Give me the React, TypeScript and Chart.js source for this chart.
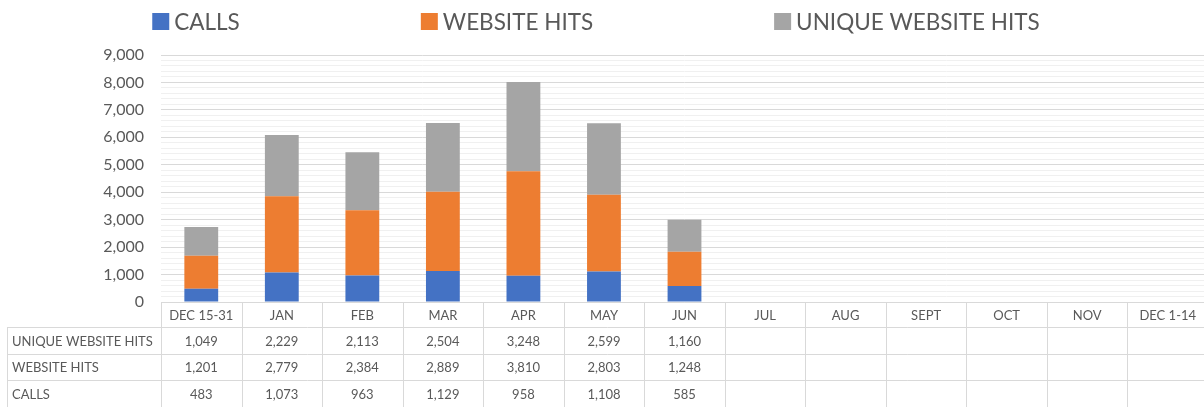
import React, { useEffect, useRef } from 'react';
import { Chart, registerables } from 'chart.js';

Chart.register(...registerables);

const categories = ['DEC 15-31', 'JAN', 'FEB', 'MAR', 'APR', 'MAY', 'JUN', 'JUL', 'AUG', 'SEPT', 'OCT', 'NOV', 'DEC 1-14'];
const calls: (number | null)[] = [483, 1073, 963, 1129, 958, 1108, 585, null, null, null, null, null, null];
const websiteHits: (number | null)[] = [1201, 2779, 2384, 2889, 3810, 2803, 1248, null, null, null, null, null, null];
const uniqueWebsiteHits: (number | null)[] = [1049, 2229, 2113, 2504, 3248, 2599, 1160, null, null, null, null, null, null];
const seriesNames = ['CALLS', 'WEBSITE HITS', 'UNIQUE WEBSITE HITS'];
const seriesColors = ['#4472C4', '#ED7D31', '#A5A5A5'];
const yMax = 9000;
const yMajorStep = 1000;
const yMinorStep = 200;

const FONT = 'Lato, "Open Sans", sans-serif';
const TEXT = '#595959';
const LINE = '#d9d9d9';

const fmt = (v: number) => v.toLocaleString('en-US');

const legendPlugin = {
  id: 'customLegend',
  afterDraw(chart: any) {
    const ctx = chart.ctx;
    ctx.save();
    ctx.font = `22.5px ${FONT}`;
    ctx.textBaseline = 'middle';
    ctx.textAlign = 'left';
    const box = 17;
    const gapBoxText = 5;
    const gapItems = 181;
    const items = chart.data.datasets.map((d: any) => ({
      label: d.label,
      color: d.backgroundColor,
      w: box + gapBoxText + ctx.measureText(d.label).width,
    }));
    const total = items.reduce((s: number, it: any) => s + it.w, 0) + gapItems * (items.length - 1);
    let x = 596 - total / 2;
    const cy = 21.5;
    items.forEach((it: any) => {
      ctx.fillStyle = it.color;
      ctx.fillRect(x, cy - box / 2, box, box);
      ctx.fillStyle = TEXT;
      ctx.fillText(it.label, x + box + gapBoxText, cy + 1);
      x += it.w + gapItems;
    });
    ctx.restore();
  },
};

const tablePlugin = {
  id: 'dataTable',
  afterDraw(chart: any) {
    const ctx = chart.ctx;
    const area = chart.chartArea;
    const xs = chart.scales.x;
    const n = chart.data.labels.length;
    const left = area.left;
    const right = area.right;
    const colW = (right - left) / n;
    const top = area.bottom;
    const headerH = 25;
    const rowH = 26.7;
    const tableLeft = 7.5;
    const bottom = chart.height;
    const rows = [...chart.data.datasets].reverse();

    ctx.save();
    ctx.strokeStyle = LINE;
    ctx.lineWidth = 1;
    ctx.beginPath();
    ctx.moveTo(left, Math.round(top) + 0.5);
    ctx.lineTo(right, Math.round(top) + 0.5);
    for (let r = 0; r < rows.length; r++) {
      const y = Math.round(top + headerH + r * rowH) + 0.5;
      ctx.moveTo(tableLeft, y);
      ctx.lineTo(right, y);
    }
    ctx.moveTo(tableLeft, Math.round(top + headerH));
    ctx.lineTo(tableLeft, bottom);
    for (let k = 0; k <= n; k++) {
      const x = Math.round(left + k * colW) + 0.5;
      ctx.moveTo(x, Math.round(top));
      ctx.lineTo(x, bottom);
    }
    ctx.stroke();

    ctx.fillStyle = TEXT;
    ctx.textBaseline = 'middle';
    ctx.font = `13px ${FONT}`;
    ctx.textAlign = 'center';
    chart.data.labels.forEach((lab: string, i: number) => {
      ctx.fillText(lab, xs.getPixelForValue(i), top + headerH / 2 + 1);
    });
    rows.forEach((ds: any, r: number) => {
      const cy = top + headerH + r * rowH + rowH / 2 + 1;
      ctx.textAlign = 'left';
      ctx.fillText(ds.label, 12, cy);
      ctx.textAlign = 'center';
      ds.data.forEach((v: number | null, i: number) => {
        if (v == null) return;
        ctx.fillText(fmt(v), xs.getPixelForValue(i), cy);
      });
    });
    ctx.restore();
  },
};

export default function App() {
  const ref = useRef<HTMLCanvasElement | null>(null);
  useEffect(() => {
    if (!ref.current) return;
    const series = [calls, websiteHits, uniqueWebsiteHits];
    const chart = new Chart(ref.current, {
      type: 'bar',
      data: {
        labels: categories,
        datasets: series.map((data, i) => ({
          label: seriesNames[i],
          data,
          backgroundColor: seriesColors[i],
          borderWidth: 0,
          barPercentage: 0.42,
          categoryPercentage: 1,
        })),
      },
      options: {
        animation: false,
        responsive: false,
        devicePixelRatio: 1,
        layout: { padding: { top: 55, bottom: 105, left: 0, right: 2 } },
        plugins: { legend: { display: false }, tooltip: { enabled: false } },
        scales: {
          x: { stacked: true, display: false },
          y: {
            stacked: true,
            min: 0,
            max: yMax,
            border: { display: false },
            grid: {
              drawTicks: false,
              color: (c: any) => (c.tick && c.tick.value % yMajorStep === 0 ? '#d9d9d9' : '#f0f0f0'),
              lineWidth: 1,
            },
            ticks: {
              stepSize: yMinorStep,
              autoSkip: false,
              padding: 17,
              color: TEXT,
              font: { family: FONT, size: 16 },
              callback: (v: any) => (Number(v) % yMajorStep === 0 ? fmt(Number(v)) : ''),
            },
            afterFit: (scale: any) => {
              scale.width = 161;
            },
          },
        },
      },
      plugins: [legendPlugin, tablePlugin],
    });
    return () => chart.destroy();
  }, []);
  return (
    <div style={{ position: 'fixed', left: 0, top: 0, width: 1204, height: 407, overflow: 'hidden', background: '#fff' }}>
      <canvas ref={ref} width={1210} height={407} style={{ width: 1210, height: 407, display: 'block' }} />
    </div>
  );
}
